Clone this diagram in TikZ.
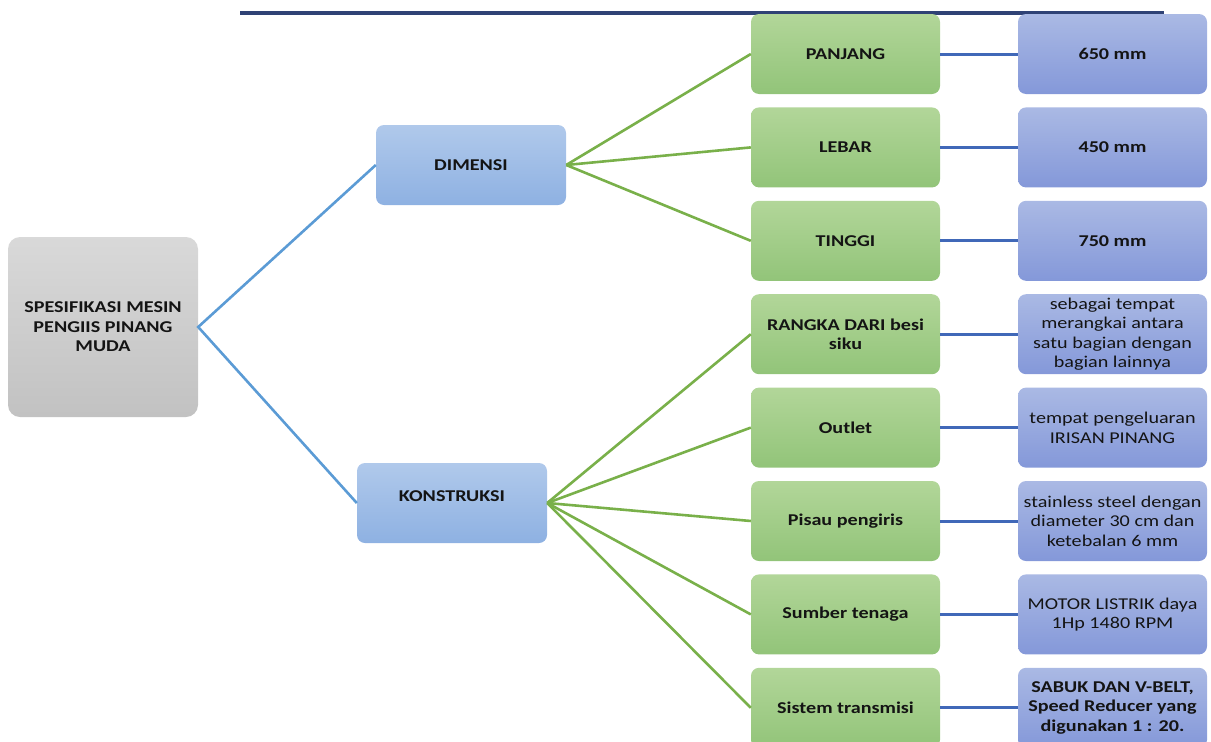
\documentclass[tikz,border=0pt]{standalone}
\usepackage{fontspec}
\setmainfont{Carlito}[FakeStretch=1.22]
\definecolor{txt}{HTML}{141414}
\definecolor{navy}{HTML}{2F4275}
\definecolor{lblue}{HTML}{5B9BD5}
\definecolor{dblue}{HTML}{4068B8}
\definecolor{lgreen}{HTML}{79B04A}
\tikzset{
  box/.style={rounded corners=8pt, minimum width=190pt, minimum height=80pt, inner sep=0pt, align=center, text=txt, font=\fontsize{16.5}{19.5}\selectfont},
  greybox/.style={box, top color=gray!30, bottom color=gray!48, rounded corners=12pt, minimum height=180pt},
  dbox/.style={box, top color={rgb,255:red,176;green,201;blue,235}, bottom color={rgb,255:red,142;green,177;blue,226}},
  gbox/.style={box, minimum width=189pt, top color={rgb,255:red,178;green,214;blue,153}, bottom color={rgb,255:red,146;green,196;blue,121}},
  pbox/.style={box, minimum width=189pt, top color={rgb,255:red,170;green,185;blue,228}, bottom color={rgb,255:red,132;green,152;blue,217}},
  bline/.style={draw=lblue, line width=2.6pt},
  gline/.style={draw=lgreen, line width=2.6pt},
  rline/.style={draw=dblue, line width=3pt},
}
\begin{document}
\begin{tikzpicture}[x=1pt, y=-1pt]
\useasboundingbox (0,0) rectangle (1211,742);
\clip (0,0) rectangle (1211,742);
% top rule
\coordinate (tl) at (240,13);
\coordinate (tr) at (1164,13);
\draw[navy, line width=3.2pt] (tl) -- (tr);

\node[greybox] (root) at (103,327) {\bfseries SPESIFIKASI MESIN\\\bfseries PENGIIS PINANG\\\bfseries MUDA};
\node[dbox] (dim) at (471,165) {\bfseries DIMENSI};
\node[dbox] (kon) at (452,503) {\raisebox{13pt}{\bfseries KONSTRUKSI}};

\node[gbox] (g1) at (845.5,54) {\bfseries PANJANG};
\node[gbox] (g2) at (845.5,147.4) {\bfseries LEBAR};
\node[gbox] (g3) at (845.5,240.8) {\bfseries TINGGI};
\node[gbox] (g4) at (845.5,334.2) {\bfseries RANGKA DARI besi\\\bfseries siku};
\node[gbox] (g5) at (845.5,427.6) {\bfseries Outlet};
\node[gbox] (g6) at (845.5,521) {\bfseries Pisau pengiris};
\node[gbox] (g7) at (845.5,614.4) {\bfseries Sumber tenaga};
\node[gbox] (g8) at (845.5,707.8) {\bfseries Sistem transmisi};

\node[pbox] (b1) at (1112.5,54) {\bfseries 650 mm};
\node[pbox] (b2) at (1112.5,147.4) {\bfseries 450 mm};
\node[pbox] (b3) at (1112.5,240.8) {\bfseries 750 mm};
\node[pbox] (b4) at (1112.5,334.2) {sebagai tempat\\merangkai antara\\satu bagian dengan\\bagian lainnya};
\node[pbox] (b5) at (1112.5,427.6) {tempat pengeluaran\\IRISAN PINANG};
\node[pbox] (b6) at (1112.5,521) {stainless steel dengan\\diameter 30 cm dan\\ketebalan 6 mm};
\node[pbox] (b7) at (1112.5,614.4) {MOTOR LISTRIK daya\\1Hp 1480 RPM};
\node[pbox] (b8) at (1112.5,707.8) {\raisebox{-3pt}{\parbox{189pt}{\centering\bfseries SABUK DAN V-BELT,\\Speed Reducer yang\\digunakan 1 : 20.}}};

\draw[bline] (dim.west) -- (root.east) -- (kon.west);
\foreach \i in {1,2,3} \draw[gline] (dim.east) -- (g\i.west);
\foreach \i in {4,5,6,7,8} \draw[gline] (kon.east) -- (g\i.west);
\foreach \i in {1,...,8} \draw[rline] (g\i.east) -- (b\i.west);
\end{tikzpicture}
\end{document}
